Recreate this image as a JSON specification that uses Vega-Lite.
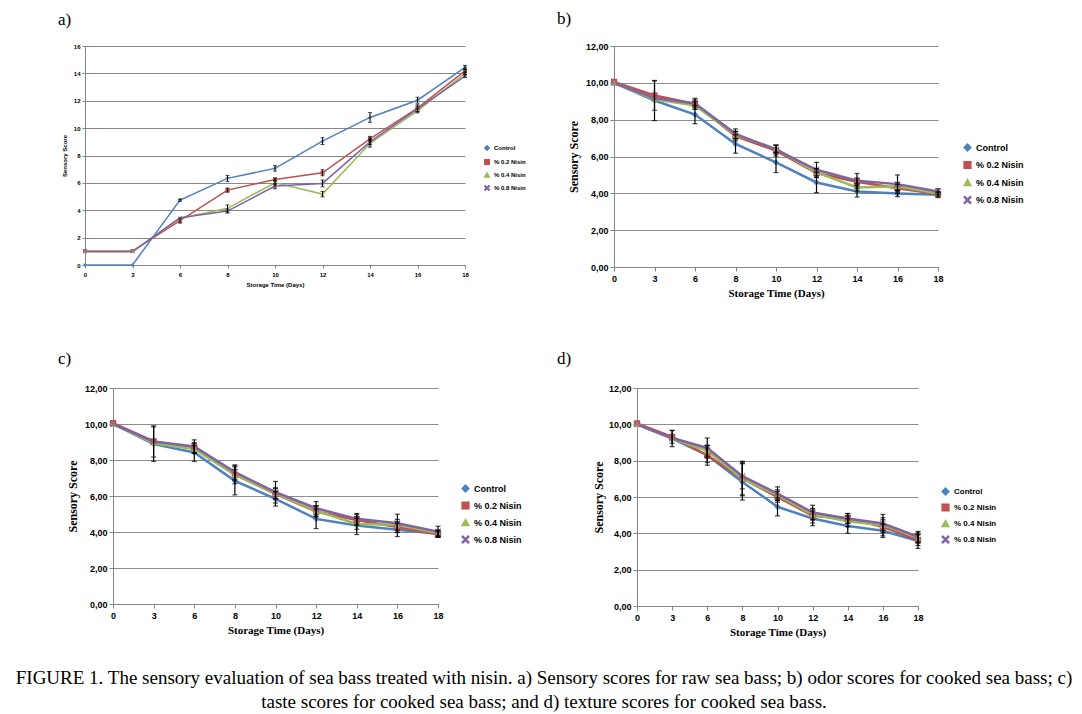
{
  "$schema": "https://vega.github.io/schema/vega-lite/v6.json",
  "background": "white",
  "padding": {"left": 15, "top": 10, "right": 5, "bottom": 5},
  "config": {
    "view": {"stroke": null},
    "locale": {"number": {"decimal": ",", "thousands": ".", "grouping": [3], "currency": ["", ""]}},
    "axis": {"domainColor": "#868686", "tickColor": "#868686", "gridColor": "#8c8c8c", "labelColor": "black", "titleColor": "black"},
    "legend": {"title": null}
  },
  "title": {
    "text": [
      "FIGURE 1. The sensory evaluation of sea bass treated with nisin. a) Sensory scores for raw sea bass; b) odor scores for cooked sea bass; c)",
      "taste scores for cooked sea bass; and d) texture scores for cooked sea bass."
    ],
    "orient": "bottom",
    "anchor": "start",
    "frame": "group",
    "align": "center",
    "dx": 459,
    "font": "Liberation Serif",
    "fontSize": 19,
    "fontWeight": "normal",
    "color": "black",
    "lineHeight": 24,
    "offset": 32
  },
  "datasets": {
    "a": [
      {"day": 0, "series": "Control", "score": 0, "err": 0},
      {"day": 3, "series": "Control", "score": 0, "err": 0},
      {"day": 6, "series": "Control", "score": 4.74, "err": 0.08},
      {"day": 8, "series": "Control", "score": 6.33, "err": 0.22},
      {"day": 10, "series": "Control", "score": 7.06, "err": 0.2},
      {"day": 12, "series": "Control", "score": 9.05, "err": 0.25},
      {"day": 14, "series": "Control", "score": 10.78, "err": 0.35},
      {"day": 16, "series": "Control", "score": 12.04, "err": 0.22},
      {"day": 18, "series": "Control", "score": 14.43, "err": 0.15},
      {"day": 0, "series": "% 0.2 Nisin", "score": 1.02, "err": 0},
      {"day": 3, "series": "% 0.2 Nisin", "score": 1.02, "err": 0},
      {"day": 6, "series": "% 0.2 Nisin", "score": 3.24, "err": 0.18},
      {"day": 8, "series": "% 0.2 Nisin", "score": 5.47, "err": 0.15},
      {"day": 10, "series": "% 0.2 Nisin", "score": 6.25, "err": 0.1},
      {"day": 12, "series": "% 0.2 Nisin", "score": 6.74, "err": 0.22},
      {"day": 14, "series": "% 0.2 Nisin", "score": 9.22, "err": 0.18},
      {"day": 16, "series": "% 0.2 Nisin", "score": 11.46, "err": 0.25},
      {"day": 18, "series": "% 0.2 Nisin", "score": 14.18, "err": 0.15},
      {"day": 0, "series": "% 0.4 Nisin", "score": 1, "err": 0},
      {"day": 3, "series": "% 0.4 Nisin", "score": 1, "err": 0},
      {"day": 6, "series": "% 0.4 Nisin", "score": 3.4, "err": 0},
      {"day": 8, "series": "% 0.4 Nisin", "score": 4.14, "err": 0.25},
      {"day": 10, "series": "% 0.4 Nisin", "score": 6.01, "err": 0.15},
      {"day": 12, "series": "% 0.4 Nisin", "score": 5.18, "err": 0.2},
      {"day": 14, "series": "% 0.4 Nisin", "score": 8.88, "err": 0.27},
      {"day": 16, "series": "% 0.4 Nisin", "score": 11.26, "err": 0.15},
      {"day": 18, "series": "% 0.4 Nisin", "score": 13.99, "err": 0.1},
      {"day": 0, "series": "% 0.8 Nisin", "score": 0.97, "err": 0},
      {"day": 3, "series": "% 0.8 Nisin", "score": 0.97, "err": 0},
      {"day": 6, "series": "% 0.8 Nisin", "score": 3.45, "err": 0},
      {"day": 8, "series": "% 0.8 Nisin", "score": 3.94, "err": 0.15},
      {"day": 10, "series": "% 0.8 Nisin", "score": 5.77, "err": 0.2},
      {"day": 12, "series": "% 0.8 Nisin", "score": 5.96, "err": 0.25},
      {"day": 14, "series": "% 0.8 Nisin", "score": 9.0, "err": 0.2},
      {"day": 16, "series": "% 0.8 Nisin", "score": 11.41, "err": 0.2},
      {"day": 18, "series": "% 0.8 Nisin", "score": 13.8, "err": 0.1}
    ],
    "b": [
      {"day": 0, "series": "Control", "score": 10, "err": 0},
      {"day": 3, "series": "Control", "score": 9.04, "err": 1.09},
      {"day": 6, "series": "Control", "score": 8.28, "err": 0.5},
      {"day": 8, "series": "Control", "score": 6.68, "err": 0.5},
      {"day": 10, "series": "Control", "score": 5.68, "err": 0.55},
      {"day": 12, "series": "Control", "score": 4.59, "err": 0.55},
      {"day": 14, "series": "Control", "score": 4.1, "err": 0.3},
      {"day": 16, "series": "Control", "score": 3.99, "err": 0.17},
      {"day": 18, "series": "Control", "score": 3.92, "err": 0.15},
      {"day": 0, "series": "% 0.2 Nisin", "score": 10.05, "err": 0},
      {"day": 3, "series": "% 0.2 Nisin", "score": 9.31, "err": 0.8},
      {"day": 6, "series": "% 0.2 Nisin", "score": 8.86, "err": 0.3},
      {"day": 8, "series": "% 0.2 Nisin", "score": 7.1, "err": 0.25},
      {"day": 10, "series": "% 0.2 Nisin", "score": 6.32, "err": 0.3},
      {"day": 12, "series": "% 0.2 Nisin", "score": 5.1, "err": 0.25},
      {"day": 14, "series": "% 0.2 Nisin", "score": 4.63, "err": 0.2},
      {"day": 16, "series": "% 0.2 Nisin", "score": 4.28, "err": 0.2},
      {"day": 18, "series": "% 0.2 Nisin", "score": 3.96, "err": 0.1},
      {"day": 0, "series": "% 0.4 Nisin", "score": 10, "err": 0},
      {"day": 3, "series": "% 0.4 Nisin", "score": 9.1, "err": 0},
      {"day": 6, "series": "% 0.4 Nisin", "score": 8.77, "err": 0.2},
      {"day": 8, "series": "% 0.4 Nisin", "score": 7.17, "err": 0.2},
      {"day": 10, "series": "% 0.4 Nisin", "score": 6.41, "err": 0.2},
      {"day": 12, "series": "% 0.4 Nisin", "score": 5.14, "err": 0.2},
      {"day": 14, "series": "% 0.4 Nisin", "score": 4.32, "err": 0.2},
      {"day": 16, "series": "% 0.4 Nisin", "score": 4.38, "err": 0.2},
      {"day": 18, "series": "% 0.4 Nisin", "score": 3.99, "err": 0},
      {"day": 0, "series": "% 0.8 Nisin", "score": 9.98, "err": 0},
      {"day": 3, "series": "% 0.8 Nisin", "score": 9.17, "err": 0},
      {"day": 6, "series": "% 0.8 Nisin", "score": 8.88, "err": 0.2},
      {"day": 8, "series": "% 0.8 Nisin", "score": 7.23, "err": 0.27},
      {"day": 10, "series": "% 0.8 Nisin", "score": 6.37, "err": 0.25},
      {"day": 12, "series": "% 0.8 Nisin", "score": 5.28, "err": 0.4},
      {"day": 14, "series": "% 0.8 Nisin", "score": 4.68, "err": 0.4},
      {"day": 16, "series": "% 0.8 Nisin", "score": 4.5, "err": 0.5},
      {"day": 18, "series": "% 0.8 Nisin", "score": 4.1, "err": 0.15}
    ],
    "c": [
      {"day": 0, "series": "Control", "score": 10, "err": 0},
      {"day": 3, "series": "Control", "score": 8.88, "err": 0.96},
      {"day": 6, "series": "Control", "score": 8.42, "err": 0.5},
      {"day": 8, "series": "Control", "score": 6.84, "err": 0.78},
      {"day": 10, "series": "Control", "score": 5.84, "err": 0.4},
      {"day": 12, "series": "Control", "score": 4.73, "err": 0.54},
      {"day": 14, "series": "Control", "score": 4.36, "err": 0.5},
      {"day": 16, "series": "Control", "score": 4.12, "err": 0.37},
      {"day": 18, "series": "Control", "score": 3.9, "err": 0.2},
      {"day": 0, "series": "% 0.2 Nisin", "score": 10.05, "err": 0},
      {"day": 3, "series": "% 0.2 Nisin", "score": 9.03, "err": 0.87},
      {"day": 6, "series": "% 0.2 Nisin", "score": 8.66, "err": 0.3},
      {"day": 8, "series": "% 0.2 Nisin", "score": 7.18, "err": 0.5},
      {"day": 10, "series": "% 0.2 Nisin", "score": 6.12, "err": 0.3},
      {"day": 12, "series": "% 0.2 Nisin", "score": 5.14, "err": 0.3},
      {"day": 14, "series": "% 0.2 Nisin", "score": 4.67, "err": 0.3},
      {"day": 16, "series": "% 0.2 Nisin", "score": 4.27, "err": 0.3},
      {"day": 18, "series": "% 0.2 Nisin", "score": 3.88, "err": 0.15},
      {"day": 0, "series": "% 0.4 Nisin", "score": 10, "err": 0},
      {"day": 3, "series": "% 0.4 Nisin", "score": 8.94, "err": 0},
      {"day": 6, "series": "% 0.4 Nisin", "score": 8.61, "err": 0.2},
      {"day": 8, "series": "% 0.4 Nisin", "score": 7.18, "err": 0.3},
      {"day": 10, "series": "% 0.4 Nisin", "score": 6.16, "err": 0.3},
      {"day": 12, "series": "% 0.4 Nisin", "score": 5.17, "err": 0.3},
      {"day": 14, "series": "% 0.4 Nisin", "score": 4.45, "err": 0.3},
      {"day": 16, "series": "% 0.4 Nisin", "score": 4.4, "err": 0.3},
      {"day": 18, "series": "% 0.4 Nisin", "score": 3.95, "err": 0.15},
      {"day": 0, "series": "% 0.8 Nisin", "score": 10, "err": 0},
      {"day": 3, "series": "% 0.8 Nisin", "score": 9.03, "err": 0},
      {"day": 6, "series": "% 0.8 Nisin", "score": 8.75, "err": 0.37},
      {"day": 8, "series": "% 0.8 Nisin", "score": 7.33, "err": 0.4},
      {"day": 10, "series": "% 0.8 Nisin", "score": 6.21, "err": 0.6},
      {"day": 12, "series": "% 0.8 Nisin", "score": 5.32, "err": 0.37},
      {"day": 14, "series": "% 0.8 Nisin", "score": 4.73, "err": 0.3},
      {"day": 16, "series": "% 0.8 Nisin", "score": 4.49, "err": 0.5},
      {"day": 18, "series": "% 0.8 Nisin", "score": 4.02, "err": 0.3}
    ],
    "d": [
      {"day": 0, "series": "Control", "score": 10, "err": 0},
      {"day": 3, "series": "Control", "score": 9.22, "err": 0.45},
      {"day": 6, "series": "Control", "score": 8.3, "err": 0.4},
      {"day": 8, "series": "Control", "score": 6.83, "err": 1.0},
      {"day": 10, "series": "Control", "score": 5.46, "err": 0.5},
      {"day": 12, "series": "Control", "score": 4.82, "err": 0.4},
      {"day": 14, "series": "Control", "score": 4.4, "err": 0.4},
      {"day": 16, "series": "Control", "score": 4.14, "err": 0.37},
      {"day": 18, "series": "Control", "score": 3.57, "err": 0.4},
      {"day": 0, "series": "% 0.2 Nisin", "score": 10.05, "err": 0},
      {"day": 3, "series": "% 0.2 Nisin", "score": 9.31, "err": 0.35},
      {"day": 6, "series": "% 0.2 Nisin", "score": 8.3, "err": 0.55},
      {"day": 8, "series": "% 0.2 Nisin", "score": 7.02, "err": 0.95},
      {"day": 10, "series": "% 0.2 Nisin", "score": 6.01, "err": 0.3},
      {"day": 12, "series": "% 0.2 Nisin", "score": 4.97, "err": 0.4},
      {"day": 14, "series": "% 0.2 Nisin", "score": 4.82, "err": 0.27},
      {"day": 16, "series": "% 0.2 Nisin", "score": 4.36, "err": 0.5},
      {"day": 18, "series": "% 0.2 Nisin", "score": 3.63, "err": 0.3},
      {"day": 0, "series": "% 0.4 Nisin", "score": 10, "err": 0},
      {"day": 3, "series": "% 0.4 Nisin", "score": 9.22, "err": 0},
      {"day": 6, "series": "% 0.4 Nisin", "score": 8.54, "err": 0.3},
      {"day": 8, "series": "% 0.4 Nisin", "score": 7.02, "err": 0.9},
      {"day": 10, "series": "% 0.4 Nisin", "score": 6.1, "err": 0.3},
      {"day": 12, "series": "% 0.4 Nisin", "score": 5.04, "err": 0.3},
      {"day": 14, "series": "% 0.4 Nisin", "score": 4.67, "err": 0.3},
      {"day": 16, "series": "% 0.4 Nisin", "score": 4.45, "err": 0.3},
      {"day": 18, "series": "% 0.4 Nisin", "score": 3.76, "err": 0.3},
      {"day": 0, "series": "% 0.8 Nisin", "score": 10, "err": 0},
      {"day": 3, "series": "% 0.8 Nisin", "score": 9.25, "err": 0},
      {"day": 6, "series": "% 0.8 Nisin", "score": 8.7, "err": 0.55},
      {"day": 8, "series": "% 0.8 Nisin", "score": 7.15, "err": 0.7},
      {"day": 10, "series": "% 0.8 Nisin", "score": 6.19, "err": 0.37},
      {"day": 12, "series": "% 0.8 Nisin", "score": 5.15, "err": 0.4},
      {"day": 14, "series": "% 0.8 Nisin", "score": 4.82, "err": 0.27},
      {"day": 16, "series": "% 0.8 Nisin", "score": 4.54, "err": 0.5},
      {"day": 18, "series": "% 0.8 Nisin", "score": 3.81, "err": 0.3}
    ]
  },
  "columns": 2,
  "align": {"row": "each", "column": "none"},
  "spacing": {"row": 52, "column": 31},
  "concat": [
    {
      "title": {"text": "a)", "anchor": "start", "frame": "group", "dx": -27, "offset": 14, "font": "Liberation Serif", "fontSize": 17, "fontWeight": "normal", "color": "black"},
      "width": 380,
      "height": 219,
      "data": {"name": "a"},
      "encoding": {
        "x": {"field": "day", "type": "ordinal", "scale": {"type": "point", "padding": 0},
          "axis": {"title": "Storage Time (Days)", "labelAngle": 0, "labelFont": "Liberation Sans", "labelFontSize": 6, "labelFontWeight": "bold", "titleFont": "Liberation Sans", "titleFontSize": 6, "titleFontWeight": "bold", "tickSize": 3, "labelPadding": 3, "titlePadding": 4}},
        "y": {"field": "score", "type": "quantitative", "scale": {"domain": [0, 16]},
          "axis": {"title": "Sensory Score", "values": [0, 2, 4, 6, 8, 10, 12, 14, 16], "format": "d", "labelFont": "Liberation Sans", "labelFontSize": 6, "labelFontWeight": "bold", "titleFont": "Liberation Sans", "titleFontSize": 6, "titleFontWeight": "bold", "tickSize": 3, "labelPadding": 2, "titlePadding": 6, "gridColor": "#868686"}}
      },
      "layer": [
        {
          "mark": {"type": "line", "strokeWidth": 1.5},
          "encoding": {
            "color": {"field": "series", "type": "nominal",
              "scale": {"domain": ["Control", "% 0.2 Nisin", "% 0.4 Nisin", "% 0.8 Nisin"], "range": ["#4F81BD", "#C0504D", "#9BBB59", "#8064A2"]},
              "legend": {"orient": "none", "legendX": 399, "legendY": 99, "labelFont": "Liberation Sans", "labelFontSize": 6, "labelFontWeight": "bold", "symbolSize": 20, "rowPadding": 2}}
          }
        },
        {
          "mark": {"type": "point", "filled": true, "size": 16, "opacity": 1},
          "encoding": {
            "color": {"field": "series", "type": "nominal",
              "scale": {"domain": ["Control", "% 0.2 Nisin", "% 0.4 Nisin", "% 0.8 Nisin"], "range": ["#4F81BD", "#C0504D", "#9BBB59", "#8064A2"]},
              "legend": {"orient": "none", "legendX": 399, "legendY": 99, "labelFont": "Liberation Sans", "labelFontSize": 6, "labelFontWeight": "bold", "symbolSize": 20, "rowPadding": 2}},
            "shape": {"field": "series", "type": "nominal",
              "scale": {"domain": ["Control", "% 0.2 Nisin", "% 0.4 Nisin", "% 0.8 Nisin"], "range": ["diamond", "square", "triangle-up", "M-1,-0.8L-0.8,-1L0,-0.2L0.8,-1L1,-0.8L0.2,0L1,0.8L0.8,1L0,0.2L-0.8,1L-1,0.8L-0.2,0Z"]},
              "legend": {"orient": "none", "legendX": 399, "legendY": 99, "labelFont": "Liberation Sans", "labelFontSize": 6, "labelFontWeight": "bold", "symbolSize": 20, "rowPadding": 2}}
          }
        },
        {
          "transform": [{"filter": "datum.err > 0"}],
          "mark": {"type": "errorbar", "ticks": {"size": 4}, "color": "black", "thickness": 1},
          "encoding": {"yError": {"field": "err"}}
        }
      ]
    },
    {
      "title": {"text": "b)", "anchor": "start", "frame": "group", "dx": -57, "offset": 14, "font": "Liberation Serif", "fontSize": 17, "fontWeight": "normal", "color": "black"},
      "width": 324,
      "height": 221,
      "data": {"name": "b"},
      "encoding": {
        "x": {"field": "day", "type": "ordinal", "scale": {"type": "point", "padding": 0},
          "axis": {"title": "Storage Time (Days)", "labelAngle": 0, "labelFont": "Liberation Sans", "labelFontSize": 9, "labelFontWeight": "bold", "titleFont": "Liberation Serif", "titleFontSize": 11, "titleFontWeight": "bold", "tickSize": 4, "labelPadding": 3, "titlePadding": 4}},
        "y": {"field": "score", "type": "quantitative", "scale": {"domain": [0, 12]},
          "axis": {"title": "Sensory Score", "values": [0, 2, 4, 6, 8, 10, 12], "format": ".2f", "labelFont": "Liberation Sans", "labelFontSize": 9, "labelFontWeight": "bold", "titleFont": "Liberation Serif", "titleFontSize": 12, "titleFontWeight": "bold", "tickSize": 4, "labelPadding": 2, "titlePadding": 5}}
      },
      "layer": [
        {
          "mark": {"type": "line", "strokeWidth": 2.5},
          "encoding": {
            "color": {"field": "series", "type": "nominal",
              "scale": {"domain": ["Control", "% 0.2 Nisin", "% 0.4 Nisin", "% 0.8 Nisin"], "range": ["#4F81BD", "#C0504D", "#9BBB59", "#8064A2"]},
              "legend": {"orient": "none", "legendX": 349, "legendY": 97, "labelFont": "Liberation Sans", "labelFontSize": 9, "labelFontWeight": "bold", "symbolSize": 45, "rowPadding": 4.5}}
          }
        },
        {
          "mark": {"type": "point", "filled": true, "size": 40, "opacity": 1},
          "encoding": {
            "color": {"field": "series", "type": "nominal",
              "scale": {"domain": ["Control", "% 0.2 Nisin", "% 0.4 Nisin", "% 0.8 Nisin"], "range": ["#4F81BD", "#C0504D", "#9BBB59", "#8064A2"]},
              "legend": {"orient": "none", "legendX": 349, "legendY": 97, "labelFont": "Liberation Sans", "labelFontSize": 9, "labelFontWeight": "bold", "symbolSize": 45, "rowPadding": 4.5}},
            "shape": {"field": "series", "type": "nominal",
              "scale": {"domain": ["Control", "% 0.2 Nisin", "% 0.4 Nisin", "% 0.8 Nisin"], "range": ["diamond", "square", "triangle-up", "M-1,-0.8L-0.8,-1L0,-0.2L0.8,-1L1,-0.8L0.2,0L1,0.8L0.8,1L0,0.2L-0.8,1L-1,0.8L-0.2,0Z"]},
              "legend": {"orient": "none", "legendX": 349, "legendY": 97, "labelFont": "Liberation Sans", "labelFontSize": 9, "labelFontWeight": "bold", "symbolSize": 45, "rowPadding": 4.5}}
          }
        },
        {
          "transform": [{"filter": "datum.err > 0"}],
          "mark": {"type": "errorbar", "ticks": {"size": 5}, "color": "black", "thickness": 1.2},
          "encoding": {"yError": {"field": "err"}}
        }
      ]
    },
    {
      "title": {"text": "c)", "anchor": "start", "frame": "group", "dx": -27, "offset": 16, "font": "Liberation Serif", "fontSize": 17, "fontWeight": "normal", "color": "black"},
      "width": 353,
      "height": 216,
      "data": {"name": "c"},
      "encoding": {
        "x": {"field": "day", "type": "ordinal", "scale": {"type": "point", "padding": 0, "range": [28, 353]},
          "axis": {"title": "Storage Time  (Days)", "labelAngle": 0, "labelFont": "Liberation Sans", "labelFontSize": 9, "labelFontWeight": "bold", "titleFont": "Liberation Serif", "titleFontSize": 11, "titleFontWeight": "bold", "tickSize": 4, "labelPadding": 3, "titlePadding": 4}},
        "y": {"field": "score", "type": "quantitative", "scale": {"domain": [0, 12]},
          "axis": {"title": "Sensory Score", "offset": -28, "values": [0, 2, 4, 6, 8, 10, 12], "format": ".2f", "labelFont": "Liberation Sans", "labelFontSize": 9, "labelFontWeight": "bold", "titleFont": "Liberation Serif", "titleFontSize": 12, "titleFontWeight": "bold", "tickSize": 4, "labelPadding": 2, "titlePadding": 5}}
      },
      "layer": [
        {
          "mark": {"type": "line", "strokeWidth": 2.5},
          "encoding": {
            "color": {"field": "series", "type": "nominal",
              "scale": {"domain": ["Control", "% 0.2 Nisin", "% 0.4 Nisin", "% 0.8 Nisin"], "range": ["#4F81BD", "#C0504D", "#9BBB59", "#8064A2"]},
              "legend": {"orient": "none", "legendX": 376, "legendY": 96, "labelFont": "Liberation Sans", "labelFontSize": 9, "labelFontWeight": "bold", "symbolSize": 45, "rowPadding": 4}}
          }
        },
        {
          "mark": {"type": "point", "filled": true, "size": 40, "opacity": 1},
          "encoding": {
            "color": {"field": "series", "type": "nominal",
              "scale": {"domain": ["Control", "% 0.2 Nisin", "% 0.4 Nisin", "% 0.8 Nisin"], "range": ["#4F81BD", "#C0504D", "#9BBB59", "#8064A2"]},
              "legend": {"orient": "none", "legendX": 376, "legendY": 96, "labelFont": "Liberation Sans", "labelFontSize": 9, "labelFontWeight": "bold", "symbolSize": 45, "rowPadding": 4}},
            "shape": {"field": "series", "type": "nominal",
              "scale": {"domain": ["Control", "% 0.2 Nisin", "% 0.4 Nisin", "% 0.8 Nisin"], "range": ["diamond", "square", "triangle-up", "M-1,-0.8L-0.8,-1L0,-0.2L0.8,-1L1,-0.8L0.2,0L1,0.8L0.8,1L0,0.2L-0.8,1L-1,0.8L-0.2,0Z"]},
              "legend": {"orient": "none", "legendX": 376, "legendY": 96, "labelFont": "Liberation Sans", "labelFontSize": 9, "labelFontWeight": "bold", "symbolSize": 45, "rowPadding": 4}}
          }
        },
        {
          "transform": [{"filter": "datum.err > 0"}],
          "mark": {"type": "errorbar", "ticks": {"size": 5}, "color": "black", "thickness": 1.2},
          "encoding": {"yError": {"field": "err"}}
        }
      ]
    },
    {
      "title": {"text": "d)", "anchor": "start", "frame": "group", "dx": -80, "offset": 16, "font": "Liberation Serif", "fontSize": 17, "fontWeight": "normal", "color": "black"},
      "width": 281,
      "height": 218,
      "data": {"name": "d"},
      "encoding": {
        "x": {"field": "day", "type": "ordinal", "scale": {"type": "point", "padding": 0},
          "axis": {"title": "Storage Time (Days)", "labelAngle": 0, "labelFont": "Liberation Sans", "labelFontSize": 9, "labelFontWeight": "bold", "titleFont": "Liberation Serif", "titleFontSize": 11, "titleFontWeight": "bold", "tickSize": 4, "labelPadding": 3, "titlePadding": 4}},
        "y": {"field": "score", "type": "quantitative", "scale": {"domain": [0, 12]},
          "axis": {"title": "Sensory Score", "values": [0, 2, 4, 6, 8, 10, 12], "format": ".2f", "labelFont": "Liberation Sans", "labelFontSize": 9, "labelFontWeight": "bold", "titleFont": "Liberation Serif", "titleFontSize": 12, "titleFontWeight": "bold", "tickSize": 4, "labelPadding": 2, "titlePadding": 3}}
      },
      "layer": [
        {
          "mark": {"type": "line", "strokeWidth": 2.5},
          "encoding": {
            "color": {"field": "series", "type": "nominal",
              "scale": {"domain": ["Control", "% 0.2 Nisin", "% 0.4 Nisin", "% 0.8 Nisin"], "range": ["#4F81BD", "#C0504D", "#9BBB59", "#8064A2"]},
              "legend": {"orient": "none", "legendX": 304, "legendY": 99, "labelFont": "Liberation Sans", "labelFontSize": 8, "labelFontWeight": "bold", "symbolSize": 45, "rowPadding": 3}}
          }
        },
        {
          "mark": {"type": "point", "filled": true, "size": 40, "opacity": 1},
          "encoding": {
            "color": {"field": "series", "type": "nominal",
              "scale": {"domain": ["Control", "% 0.2 Nisin", "% 0.4 Nisin", "% 0.8 Nisin"], "range": ["#4F81BD", "#C0504D", "#9BBB59", "#8064A2"]},
              "legend": {"orient": "none", "legendX": 304, "legendY": 99, "labelFont": "Liberation Sans", "labelFontSize": 8, "labelFontWeight": "bold", "symbolSize": 45, "rowPadding": 3}},
            "shape": {"field": "series", "type": "nominal",
              "scale": {"domain": ["Control", "% 0.2 Nisin", "% 0.4 Nisin", "% 0.8 Nisin"], "range": ["diamond", "square", "triangle-up", "M-1,-0.8L-0.8,-1L0,-0.2L0.8,-1L1,-0.8L0.2,0L1,0.8L0.8,1L0,0.2L-0.8,1L-1,0.8L-0.2,0Z"]},
              "legend": {"orient": "none", "legendX": 304, "legendY": 99, "labelFont": "Liberation Sans", "labelFontSize": 8, "labelFontWeight": "bold", "symbolSize": 45, "rowPadding": 3}}
          }
        },
        {
          "transform": [{"filter": "datum.err > 0"}],
          "mark": {"type": "errorbar", "ticks": {"size": 5}, "color": "black", "thickness": 1.2},
          "encoding": {"yError": {"field": "err"}}
        }
      ]
    }
  ],
  "resolve": {"scale": {"color": "independent", "shape": "independent"}, "legend": {"color": "independent", "shape": "independent"}}
}
